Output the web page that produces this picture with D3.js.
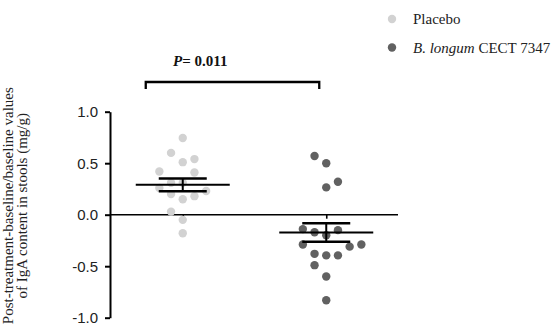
<!DOCTYPE html>
<html>
<head>
<meta charset="utf-8">
<script src="https://cdn.jsdelivr.net/npm/d3@7"></script>
<style>
  html, body { margin: 0; padding: 0; background: #fff; }
  svg { display: block; }
</style>
</head>
<body>
<svg id="chart" width="552" height="329"></svg>
<script>
// ---- data ----
const categories = ["Placebo", "B. longum CECT 7347"];
const placeboValues = [0.745, 0.60, 0.54, 0.51, 0.42, 0.41, 0.31, 0.31, 0.26, 0.23, 0.20, 0.18, 0.15, 0.03, -0.05, -0.18];
const placeboSlots  = [0, -1, 1, 0, -2, 1, -1, 0, -2, 2, -1, 1, 0, -1, 0, 0];
const longumValues  = [0.57, 0.50, 0.32, 0.265, -0.14, -0.15, -0.17, -0.20, -0.29, -0.31, -0.29, -0.38, -0.395, -0.395, -0.49, -0.60, -0.83];
const longumSlots   = [-1, 0, 1, 0, -2, 1, -1, 0, -2, 2, 3, -1, 0, 1, -1, 0, 0];
const means = [0.29, -0.172];
const sems  = [0.062, 0.09];
const yTicks = [-1.0, -0.5, 0.0, 0.5, 1.0];
const pLabel = "0.011";

const colors = ["#d2d2d2", "#616161"];
const serif = "'Liberation Serif','Times New Roman',serif";
const sans = "'Liberation Sans',Arial,sans-serif";

const svg = d3.select("#chart");

const y = d3.scaleLinear().domain([-1, 1]).range([317.7, 111.7]);
const x = d3.scalePoint().domain(categories).range([111, 398]).padding(0.5);
const slot = d3.scaleLinear().domain([-1, 1]).range([-11.7, 11.7]);

// y axis
const yAxis = svg.append("g")
  .attr("transform", "translate(110,0)")
  .call(d3.axisLeft(y).tickValues(yTicks).tickFormat(d => d.toFixed(1))
        .tickSize(5).tickSizeOuter(0).tickPadding(7));
yAxis.select(".domain").attr("stroke", "#000").attr("stroke-width", 2);
yAxis.selectAll(".tick line").attr("stroke", "#000").attr("stroke-width", 2);
yAxis.selectAll(".tick text").attr("font-family", sans).attr("font-size", 15).attr("fill", "#222");

// x axis at zero
const xAxis = svg.append("g")
  .attr("transform", `translate(0,${y(0)})`)
  .call(d3.axisBottom(x).tickFormat("").tickSize(4).tickSizeOuter(0));
xAxis.select(".domain").attr("stroke", "#000").attr("stroke-width", 1.6)
  .attr("d", `M110,0H398`);
xAxis.selectAll(".tick line").attr("stroke", "#000").attr("stroke-width", 1.6);

// y axis title
const yt = svg.append("text")
  .attr("transform", `translate(0,${y(0) - 9}) rotate(-90)`)
  .attr("text-anchor", "middle")
  .attr("font-family", serif).attr("font-size", 15).attr("fill", "#222");
yt.append("tspan").attr("x", 0).attr("y", 13).text("Post-treatment-baseline/baseline values");
yt.append("tspan").attr("x", 0).attr("y", 27).text("of IgA content in stools (mg/g)");

// dots
const groups = [
  { cat: categories[0], values: placeboValues, slots: placeboSlots, color: colors[0] },
  { cat: categories[1], values: longumValues, slots: longumSlots, color: colors[1] }
];
groups.forEach(g => {
  svg.append("g").selectAll("circle")
    .data(g.values.map((v, i) => ({ v, s: g.slots[i] })))
    .join("circle")
    .attr("cx", d => x(g.cat) + slot(d.s))
    .attr("cy", d => y(d.v))
    .attr("r", 4.2)
    .attr("fill", g.color);
});

// mean and SEM
categories.forEach((c, i) => {
  const cx = x(c);
  const g = svg.append("g").attr("stroke", "#000");
  g.append("line").attr("x1", cx).attr("x2", cx)
    .attr("y1", y(means[i] + sems[i])).attr("y2", y(means[i] - sems[i])).attr("stroke-width", 2);
  g.append("line").attr("x1", cx - 47).attr("x2", cx + 47)
    .attr("y1", y(means[i])).attr("y2", y(means[i])).attr("stroke-width", 2);
  [means[i] + sems[i], means[i] - sems[i]].forEach(v => {
    g.append("line").attr("x1", cx - 24).attr("x2", cx + 24)
      .attr("y1", y(v)).attr("y2", y(v)).attr("stroke-width", 2.5);
  });
});

// significance bracket
const bx1 = x(categories[0]) - 37, bx2 = x(categories[1]) - 7;
svg.append("path")
  .attr("d", `M${bx1},89V82H${bx2}V89`)
  .attr("fill", "none").attr("stroke", "#000").attr("stroke-width", 2.3);
const pt = svg.append("text").attr("x", 173).attr("y", 66)
  .attr("font-family", serif).attr("font-size", 15).attr("font-weight", "bold").attr("fill", "#111");
pt.append("tspan").attr("font-style", "italic").text("P");
pt.append("tspan").text("= " + pLabel);

// legend
const legend = svg.append("g").attr("font-family", serif).attr("font-size", 15).attr("fill", "#222");
categories.forEach((c, i) => {
  const ly = 19 + i * 28.5;
  legend.append("circle").attr("cx", 392).attr("cy", ly).attr("r", 4.2).attr("fill", colors[i]);
  const t = legend.append("text").attr("x", 413).attr("y", ly + 5);
  if (i === 0) {
    t.text(c);
  } else {
    t.append("tspan").attr("font-style", "italic").text("B. longum");
    t.append("tspan").text(" CECT 7347");
  }
});
</script>
</body>
</html>
